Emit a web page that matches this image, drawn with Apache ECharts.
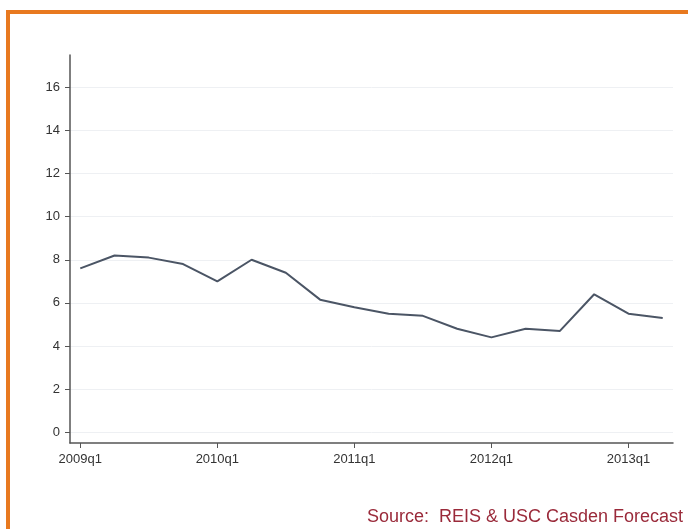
<!DOCTYPE html>
<html><head><meta charset="utf-8">
<script src="https://cdn.jsdelivr.net/npm/echarts@6/dist/echarts.min.js"></script>
<style>html,body{margin:0;padding:0;background:#fff}#c{width:688px;height:529px}</style>
</head><body><div id="c"></div>
<script>
const categories = ['2009q1','2009q2','2009q3','2009q4','2010q1','2010q2','2010q3','2010q4','2011q1','2011q2','2011q3','2011q4','2012q1','2012q2','2012q3','2012q4','2013q1','2013q2'];
const values = [7.6,8.2,8.1,7.8,7.0,8.0,7.4,6.15,5.8,5.5,5.4,4.8,4.4,4.8,4.7,6.4,5.5,5.3];
const xTickIdx = [0,4,8,12,16];
const yTicks = [0,2,4,6,8,10,12,14,16];
const sourceText = 'Source:  REIS & USC Casden Forecast';

const chart = echarts.init(document.getElementById('c'));
chart.setOption({
  animation:false,
  backgroundColor:'#fff',
  grid:{left:70,right:15,top:55,bottom:86},
  xAxis:{type:'value',min:-0.3,max:17.3,
    axisLine:{onZero:false,lineStyle:{color:'#555',width:1.5}},
    axisTick:{customValues:xTickIdx,length:5,lineStyle:{color:'#555'}},
    axisLabel:{customValues:xTickIdx,formatter:v=>categories[Math.round(v)]||'',color:'#333',fontSize:13,fontFamily:'Liberation Sans',margin:10},
    splitLine:{show:false}},
  yAxis:{type:'value',min:-0.5,max:17.5,
    axisLine:{show:true,onZero:false,lineStyle:{color:'#555',width:1.5}},
    axisTick:{show:true,customValues:yTicks,length:5,lineStyle:{color:'#555'}},
    axisLabel:{customValues:yTicks,color:'#333',fontSize:13,fontFamily:'Liberation Sans',margin:10},
    splitLine:{show:true,lineStyle:{color:'#eef0f3',width:1}}},
  series:[{type:'line',data:values.map((v,i)=>[i,v]),symbol:'none',
    lineStyle:{color:'#4b5565',width:2}}],
  graphic:[
    {type:'rect',shape:{x:8,y:12,width:720,height:600},style:{fill:'none',stroke:'#e8791f',lineWidth:4},silent:true},
    {type:'text',right:5,top:508,style:{text:sourceText,fill:'#9a2a3a',font:'18px "Liberation Sans"'}}
  ]
});
</script></body></html>
